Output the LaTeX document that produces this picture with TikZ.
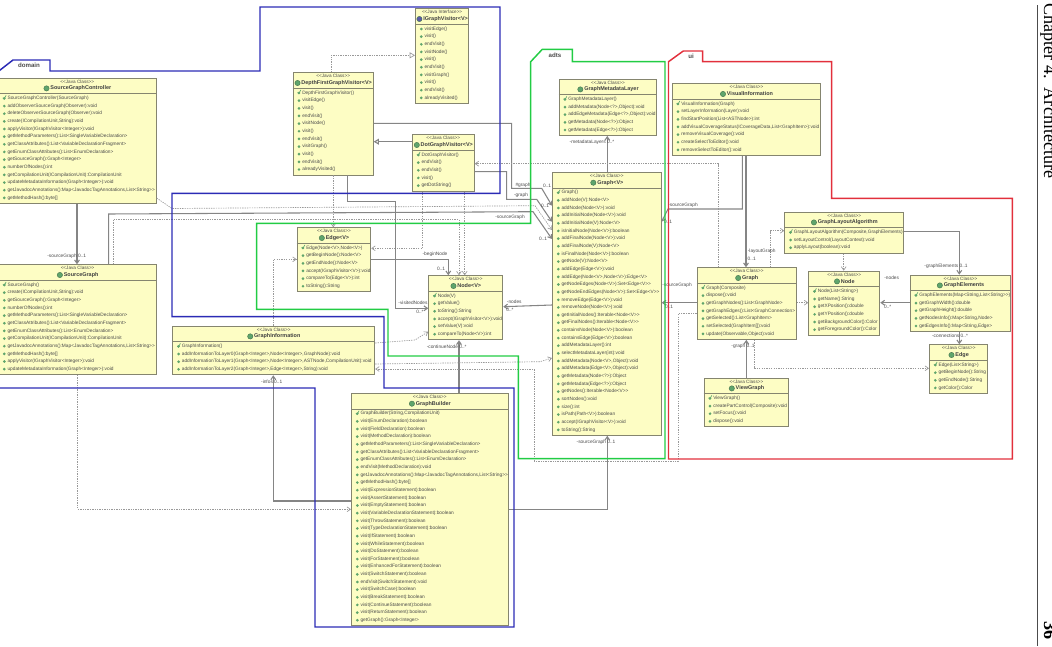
\documentclass[tikz,border=0pt]{standalone}
\usepackage{fontspec}
\usetikzlibrary{positioning}
\usetikzlibrary{calc}
\usetikzlibrary{arrows.meta}
\newfontfamily\umlfont{Liberation Sans}
\newfontfamily\headfont{Liberation Serif}
\definecolor{boxfill}{HTML}{FDFDC4}
\definecolor{boxline}{HTML}{85856F}
\definecolor{linegray}{HTML}{858585}
\definecolor{dashgray}{HTML}{999999}
\definecolor{textgray}{HTML}{4A4A4A}
\definecolor{icongreen}{HTML}{5FA56C}
\definecolor{iconpurple}{HTML}{5B5BA8}
\definecolor{domainblue}{HTML}{2B2BB5}
\definecolor{adtsgreen}{HTML}{22CC44}
\definecolor{uired}{HTML}{E2303C}
% #1 C or I, #2 name, #3 x, #4 y, #5 width, #6 rows, #7 title, #8 members
\newcommand{\umlclass}[8][C]{%
  \pgfmathsetmacro{\boxh}{25.7+(#6-1)*7.65}
  \if C#1\def\iconcol{icongreen}\def\stereoword{Class}\else\def\iconcol{iconpurple}\def\stereoword{Interface}\fi
  \node [classbox, minimum width=#5*0.75pt, minimum height=\boxh*0.75pt] (#2) at (#3,#4) {};
  \node [stereotext] (#2-s) at ($(#2.north)+(0,3.8)$) {<<Java \stereoword>>};
  \node [titletext] (#2-t) at ($(#2.north)+(3.5,10.7)$) {#7};
  \node [classicon, left=0.6pt of #2-t, fill=\iconcol] (#2-i) {};
  \draw [classsep] ($(#2.north west)+(0,16)$) -- ($(#2.north east)+(0,16)$);
  \foreach \memb [count=\i] in {#8} {
    \pgfmathsetmacro{\rowy}{20.7+(\i-1)*7.65}
    \node [memberdot] (#2-d\i) at ($(#2.north west)+(6.3,\rowy)$) {};
    \node [membertext] (#2-m\i) at ($(#2.north west)+(9.3,\rowy)$) {\memb};
    \if C#1\ifnum\i=1
      \draw [ctormark] ($(#2-d\i)+(-1.4,-0.6)$) -- ($(#2-d\i)+(-0.2,0.6)$) -- ($(#2-d\i)+(1.8,-3)$);
    \fi\fi
  }
}
\begin{document}
\begin{tikzpicture}
 [ x=0.75pt
 , y=-0.75pt
 , classbox/.style={rectangle, anchor=north west, draw=boxline, fill=boxfill, line width=0.7pt, inner sep=0pt}
 , classsep/.style={draw=boxline, line width=0.6pt}
 , stereotext/.style={font=\umlfont\fontsize{3.5}{4}\selectfont, text=textgray, inner sep=0pt}
 , titletext/.style={font=\umlfont\bfseries\fontsize{4.1}{5}\selectfont, text=black!75, inner sep=0pt}
 , classicon/.style={circle, minimum size=4pt, inner sep=0pt, draw=icongreen!70!black, line width=0.3pt}
 , membertext/.style={font=\umlfont\fontsize{3.6}{4.5}\selectfont, text=textgray, anchor=west, inner sep=0pt}
 , memberdot/.style={circle, fill=icongreen, minimum size=2.2pt, inner sep=0pt}
 , ctormark/.style={draw=icongreen, line width=0.5pt}
 , assoc/.style={draw=linegray, line width=0.8pt, -{Straight Barb[length=2.6pt,width=3.6pt]}}
 , dep/.style={draw=dashgray, line width=0.5pt, dash pattern=on 1pt off 0.8pt, -{Straight Barb[length=2.6pt,width=3.6pt]}}
 , gen/.style={draw=linegray, line width=0.8pt, -{Triangle[open,length=4pt,width=4.5pt,fill=white]}}
 , impl/.style={draw=dashgray, line width=0.5pt, dash pattern=on 1pt off 0.8pt, -{Triangle[open,length=4pt,width=4.5pt,fill=white]}}
 , edgelabel/.style={font=\umlfont\fontsize{3.6}{4.5}\selectfont, text=textgray, inner sep=0pt}
 , pkgframe/.style={line width=1.1pt, line join=miter}
 , pkglabel/.style={font=\umlfont\bfseries\fontsize{4.6}{6}\selectfont, text=black!70, inner sep=0pt}
 ]
  \path [use as bounding box, clip] (0,0) rectangle (1052,646);

  % domain
  \umlclass{sourceGraphController}{-2}{77.7}{157.7}{14}{SourceGraphController}{%
    {SourceGraphController(SourceGraph)},
    {addObserverSourceGraph(Observer):void},
    {deleteObserverSourceGraph(Observer):void},
    {create(ICompilationUnit,String):void},
    {applyVisitor(IGraphVisitor<Integer>):void},
    {getMethodParameters():List<SingleVariableDeclaration>},
    {getClassAttributes():List<VariableDeclarationFragment>},
    {getEnumClassAttributes():List<EnumDeclaration>},
    {getSourceGraph():Graph<Integer>},
    {numberOfNodes():int},
    {getCompilationUnit(ICompilationUnit):CompilationUnit},
    {updateMetadataInformation(Graph<Integer>):void},
    {getJavadocAnnotations():Map<JavadocTagAnnotations,List<String>>},
    {getMethodHash():byte[]}}
  \umlclass{sourceGraph}{-2}{264.3}{158.3}{12}{SourceGraph}{%
    {SourceGraph()},
    {create(ICompilationUnit,String):void},
    {getSourceGraph():Graph<Integer>},
    {numberOfNodes():int},
    {getMethodParameters():List<SingleVariableDeclaration>},
    {getClassAttributes():List<VariableDeclarationFragment>},
    {getEnumClassAttributes():List<EnumDeclaration>},
    {getCompilationUnit(ICompilationUnit):CompilationUnit},
    {getJavadocAnnotations():Map<JavadocTagAnnotations,List<String>>},
    {getMethodHash():byte[]},
    {applyVisitor(IGraphVisitor<Integer>):void},
    {updateMetadataInformation(Graph<Integer>):void}}
  \umlclass{graphInformation}{172.3}{325.7}{202}{4}{GraphInformation}{%
    {GraphInformation()},
    {addInformationToLayer0(Graph<Integer>,Node<Integer>,GraphNode):void},
    {addInformationToLayer1(Graph<Integer>,Node<Integer>,ASTNode,CompilationUnit):void},
    {addInformationToLayer2(Graph<Integer>,Edge<Integer>,String):void}}
  \umlclass{graphBuilder}{351}{393}{156.7}{28}{GraphBuilder}{%
    {GraphBuilder(String,CompilationUnit)},
    {visit(EnumDeclaration):boolean},
    {visit(FieldDeclaration):boolean},
    {visit(MethodDeclaration):boolean},
    {getMethodParameters():List<SingleVariableDeclaration>},
    {getClassAttributes():List<VariableDeclarationFragment>},
    {getEnumClassAttributes():List<EnumDeclaration>},
    {endVisit(MethodDeclaration):void},
    {getJavadocAnnotations():Map<JavadocTagAnnotations,List<String>>},
    {getMethodHash():byte[]},
    {visit(ExpressionStatement):boolean},
    {visit(AssertStatement):boolean},
    {visit(EmptyStatement):boolean},
    {visit(VariableDeclarationStatement):boolean},
    {visit(ThrowStatement):boolean},
    {visit(TypeDeclarationStatement):boolean},
    {visit(IfStatement):boolean},
    {visit(WhileStatement):boolean},
    {visit(DoStatement):boolean},
    {visit(ForStatement):boolean},
    {visit(EnhancedForStatement):boolean},
    {visit(SwitchStatement):boolean},
    {endVisit(SwitchStatement):void},
    {visit(SwitchCase):boolean},
    {visit(BreakStatement):boolean},
    {visit(ContinueStatement):boolean},
    {visit(ReturnStatement):boolean},
    {getGraph():Graph<Integer>}}

  % visitors
  \umlclass[I]{graphVisitor}{415}{8.3}{53.3}{10}{IGraphVisitor<V>}{%
    visitEdge(), visit(), endVisit(), visitNode(), visit(), endVisit(),
    visitGraph(), visit(), endVisit(), alreadyVisited()}
  \umlclass{depthFirst}{292.7}{72.3}{80}{11}{DepthFirstGraphVisitor<V>}{%
    DepthFirstGraphVisitor(), visitEdge(), visit(), endVisit(), visitNode(), visit(),
    endVisit(), visitGraph(), visit(), endVisit(), alreadyVisited()}
  \umlclass{dotVisitor}{412}{134.3}{61.7}{5}{DotGraphVisitor<V>}{%
    DotGraphVisitor(), endVisit(), endVisit(), visit(), getDotString()}

  % adts
  \umlclass{edgeV}{296.7}{227.3}{73.6}{6}{Edge<V>}{%
    {Edge(Node<V>,Node<V>)},
    {getBeginNode():Node<V>},
    {getEndNode():Node<V>},
    {accept(IGraphVisitor<V>):void},
    {compareTo(Edge<V>):int},
    {toString():String}}
  \umlclass{nodeV}{428.3}{275.3}{74}{6}{Node<V>}{%
    {Node(V)},
    {getValue()},
    {toString():String},
    {accept(IGraphVisitor<V>):void},
    {setValue(V):void},
    {compareTo(Node<V>):int}}
  \umlclass{metadataLayer}{558.7}{78.7}{97.6}{5}{GraphMetadataLayer}{%
    {GraphMetadataLayer()},
    {addMetadata(Node<?>,Object):void},
    {addEdgeMetadata(Edge<?>,Object):void},
    {getMetadata(Node<?>):Object},
    {getMetadata(Edge<?>):Object}}
  \umlclass{graphV}{552}{172}{108.7}{32}{Graph<V>}{%
    {Graph()},
    {addNode(V):Node<V>},
    {addNode(Node<V>):void},
    {addInitialNode(Node<V>):void},
    {addInitialNode(V):Node<V>},
    {isInitialNode(Node<V>):boolean},
    {addFinalNode(Node<V>):void},
    {addFinalNode(V):Node<V>},
    {isFinalNode(Node<V>):boolean},
    {getNode(V):Node<V>},
    {addEdge(Edge<V>):void},
    {addEdge(Node<V>,Node<V>):Edge<V>},
    {getNodeEdges(Node<V>):Set<Edge<V>>},
    {getNodeEndEdges(Node<V>):Set<Edge<V>>},
    {removeEdge(Edge<V>):void},
    {removeNode(Node<V>):void},
    {getInitialNodes():Iterable<Node<V>>},
    {getFinalNodes():Iterable<Node<V>>},
    {containsNode(Node<V>):boolean},
    {containsEdge(Edge<V>):boolean},
    {addMetadataLayer():int},
    {selectMetadataLayer(int):void},
    {addMetadata(Node<V>,Object):void},
    {addMetadata(Edge<V>,Object):void},
    {getMetadata(Node<?>):Object},
    {getMetadata(Edge<?>):Object},
    {getNodes():Iterable<Node<V>>},
    {sortNodes():void},
    {size():int},
    {isPath(Path<V>):boolean},
    {accept(IGraphVisitor<V>):void},
    {toString():String}}

  % ui
  \umlclass{visualInformation}{671.7}{83.3}{148.6}{7}{VisualInformation}{%
    {VisualInformation(Graph)},
    {setLayerInformation(Layer):void},
    {findStartPosition(List<ASTNode>):int},
    {addVisualCoverageStatus(ICoverageData,List<GraphItem>):void},
    {removeVisualCoverage():void},
    {createSelectToEditor():void},
    {removeSelectToEditor():void}}
  \umlclass{layoutAlgorithm}{784.3}{211.7}{119}{3}{GraphLayoutAlgorithm}{%
    {GraphLayoutAlgorithm(Composite,GraphElements)},
    {setLayoutControl(LayoutContext):void},
    {applyLayout(boolean):void}}
  \umlclass{uiGraph}{696.7}{267.3}{99}{7}{Graph}{%
    {Graph(Composite)},
    {dispose():void},
    {getGraphNodes():List<GraphNode>},
    {getGraphEdges():List<GraphConnection>},
    {getSelected():List<GraphItem>},
    {setSelected(GraphItem[]):void},
    {update(Observable,Object):void}}
  \umlclass{uiNode}{808.3}{270.7}{71}{6}{Node}{%
    {Node(List<String>)},
    {getName():String},
    {getXPosition():double},
    {getYPosition():double},
    {getBackgroundColor():Color},
    {getForegroundColor():Color}}
  \umlclass{graphElements}{909.7}{274.7}{100.6}{5}{GraphElements}{%
    {GraphElements(Map<String,List<String>>)},
    {getGraphWidth():double},
    {getGraphHeight():double},
    {getNodesInfo():Map<String,Node>},
    {getEdgesInfo():Map<String,Edge>}}
  \umlclass{uiEdge}{929}{344.3}{58.3}{4}{Edge}{%
    {Edge(List<String>)},
    {getBeginNode():String},
    {getEndNode():String},
    {getColor():Color}}
  \umlclass{viewGraph}{703.7}{377.7}{84.6}{4}{ViewGraph}{%
    {ViewGraph()},
    {createPartControl(Composite):void},
    {setFocus():void},
    {dispose():void}}

  % domain connectors
  \draw [assoc] (77,0 |- sourceGraphController.south) -- (77,0 |- sourceGraph.north);
  \draw [dep] (sourceGraphController.east |- 0,198) -- (172,208.5) -- (535,205.7) -- (graphV.west |- 0,230);
  \draw [assoc] (108.7,0 |- sourceGraph.north) -- (108.7,214) -- (533,211.7) -- (graphV.west |- 0,239);
  \draw [dep] (113,0 |- sourceGraph.north) -- (113,219.3) -- (459,219.3) -- (459,0 |- nodeV.north);
  \draw [dep] (77.7,0 |- sourceGraph.south) -- (77.7,509.3) -- (graphBuilder.west |- 0,509.3);
  \draw [assoc] (graphBuilder.west |- 0,501) -- (273.3,501) -- (273.3,0 |- graphInformation.south);
  \draw [assoc] (459,0 |- graphBuilder.north) -- (459,0 |- nodeV.south);
  \draw [assoc] (graphBuilder.east |- 0,509.3) -- (607.3,509.3) -- (607.3,0 |- graphV.south);
  \draw [dep] (273.3,0 |- graphInformation.north) -- (273.3,259.3) -- (edgeV.west |- 0,259.3);
  \draw [dep] (graphInformation.east |- 0,343) -- (415,340) -- (nodeV.west |- 0,331.7);
  \draw [dep] (graphInformation.east |- 0,364) -- (540,361.7) -- (graphV.west |- 0,358);

  % visitor connectors
  \draw [impl] (331,0 |- depthFirst.north) -- (331,55.3) -- (graphVisitor.west |- 0,55.3);
  \draw [gen] (dotVisitor.west |- 0,141.7) -- (depthFirst.east |- 0,141.7);
  \draw [assoc] (depthFirst.east |- 0,123.3) -- (511.7,123.3) -- (511.7,188.3) -- (541.7,188.3) -- (graphV.west |- 0,205.7);
  \draw [assoc] (dotVisitor.east |- 0,171.7) -- (506.7,171.7) -- (506.7,199.3) -- (536.7,199.3) -- (graphV.west |- 0,221.7);
  \draw [dep] (333.3,0 |- depthFirst.south) -- (333.3,0 |- edgeV.north);
  \draw [assoc] (347.3,0 |- depthFirst.south) -- (347.3,201.7) -- (395.3,201.7) -- (395.3,308.3) -- (nodeV.west |- 0,308.3);
  \draw [dep] (422.7,0 |- dotVisitor.south) -- (422.7,248.3) -- (edgeV.east |- 0,248.3);
  \draw [dep] (464.7,0 |- dotVisitor.south) -- (464.7,0 |- nodeV.north);

  % adts connectors
  \draw [assoc] (edgeV.east |- 0,259.3) -- (448.3,259.3) -- (448.3,0 |- nodeV.north);
  \draw [assoc] (graphV.west |- 0,305) -- (nodeV.east |- 0,306.7);
  \draw [assoc] (607.3,0 |- graphV.north) -- (607.3,0 |- metadataLayer.south);

  % ui connectors
  \draw [assoc] (742.3,0 |- visualInformation.south) -- (742.3,209) -- (668,209) -- (graphV.east |- 0,221.7);
  \draw [assoc] (746,0 |- visualInformation.south) -- (746,0 |- uiGraph.north);
  \draw [dep] (718.3,0 |- uiGraph.north) -- (718.3,163.7) -- (dotVisitor.east |- 0,163.7);
  \draw [dep] (770.7,0 |- uiGraph.north) -- (770.7,230.7) -- (layoutAlgorithm.west |- 0,230.7);
  \draw [dep] (uiGraph.east |- 0,302.7) -- (uiNode.west |- 0,302.7);
  \draw [dep] (843.7,0 |- layoutAlgorithm.south) -- (843.7,0 |- uiNode.north);
  \draw [assoc] (layoutAlgorithm.east |- 0,231.7) -- (959.3,231.7) -- (959.3,0 |- graphElements.north);
  \draw [assoc] (graphElements.west |- 0,302.7) -- (uiNode.east |- 0,302.7);
  \draw [assoc] (959.3,0 |- graphElements.south) -- (959.3,0 |- uiEdge.north);
  \draw [dep] (754,0 |- uiGraph.south) -- (754,368.3) -- (uiEdge.west |- 0,368.3);
  \draw [assoc] (746.3,0 |- viewGraph.north) -- (746.3,0 |- uiGraph.south);
  \draw [assoc] (uiGraph.west |- 0,302.7) -- (graphV.east |- 0,302.7);
  \draw [dep] (uiGraph.west |- 0,313.3) -- (678.3,313.3) -- (678.3,461) -- (534,461) -- (534,369) -- (graphInformation.east |- 0,369);

  % connector labels
  \node [edgelabel] (lbSourceA) at (66.7,256.7) {-sourceGraph 0..1};
  \node [edgelabel] (lbInfos) at (271.7,381.7) {-infos 0..1};
  \node [edgelabel] (lbBegin) at (435,254) {-beginNode};
  \node [edgelabel] (lbBeginN) at (441,268.7) {0..1};
  \node [edgelabel] (lbVisited) at (413,303) {-visitedNodes};
  \node [edgelabel] (lbVisitedN) at (420,312) {0..*};
  \node [edgelabel] (lbContinue) at (446.7,347) {-continueNode 0..*};
  \node [edgelabel] (lbNodes) at (514.3,302) {-nodes};
  \node [edgelabel] (lbNodesN) at (510,310) {0..*};
  \node [edgelabel] (lbHash) at (523,185.7) {\#graph};
  \node [edgelabel] (lbHashN) at (547,186) {0..1};
  \node [edgelabel] (lbGraph) at (521,195) {-graph};
  \node [edgelabel] (lbGraphN) at (545,205.7) {0..1};
  \node [edgelabel] (lbSourceB) at (510,217.7) {-sourceGraph};
  \node [edgelabel] (lbSourceBN) at (543,239.3) {0..1};
  \node [edgelabel] (lbLayers) at (592,142.7) {-metadataLayers 0..*};
  \node [edgelabel] (lbSourceC) at (596,442.3) {-sourceGraph 0..1};
  \node [edgelabel] (lbSourceD) at (683,205) {-sourceGraph};
  \node [edgelabel] (lbSourceDN) at (668,221.7) {0..1};
  \node [edgelabel] (lbSourceE) at (677,285) {-sourceGraph};
  \node [edgelabel] (lbSourceEN) at (669,306.7) {0..1};
  \node [edgelabel] (lbLayout) at (761.7,251.7) {-layoutGraph};
  \node [edgelabel] (lbLayoutN) at (751.7,259.3) {0..1};
  \node [edgelabel] (lbUiGraph) at (743,346.7) {-graph 0..1};
  \node [edgelabel] (lbElements) at (946,266.7) {-graphElements 0..1};
  \node [edgelabel] (lbUiNodes) at (891.7,277.7) {-nodes};
  \node [edgelabel] (lbUiNodesN) at (887.7,306.7) {0..*};
  \node [edgelabel] (lbConn) at (950,336) {-connections 0..*};

  % package frames
  \draw [pkgframe, domainblue] (-5,74) -- (13,60) -- (50,60) -- (50,71) -- (260,71) -- (260,7)
    -- (500,7) -- (500,193.3) -- (172,193.3) -- (172,316.7) -- (384,316.7) -- (384,388)
    -- (514,388) -- (514,627) -- (315,627) -- (315,388) -- (-5,388);
  \draw [pkgframe, adtsgreen] (530.7,61.7) -- (542.3,49.3) -- (572.3,49.3) -- (572.3,61.7) -- (665,61.7)
    -- (665,458.7) -- (518.3,458.7) -- (518.3,356) -- (388,356) -- (388,309.3) -- (256.7,309.3)
    -- (256.7,223.3) -- (530.7,223.3) -- cycle;
  \draw [pkgframe, uired] (668.5,61.7) -- (683.3,51) -- (702.7,51) -- (702.7,61.7) -- (831.7,61.7)
    -- (831.7,198.3) -- (1012.3,198.3) -- (1012.3,459) -- (668.5,459) -- cycle;
  \node [pkglabel] (pkgDomain) at (29,65.5) {domain};
  \node [pkglabel] (pkgAdts) at (555,55) {adts};
  \node [pkglabel] (pkgUi) at (691,56) {ui};

  % page head
  \draw [draw=black!70, line width=0.5pt] (1037.7,5) -- (1037.7,646);
  \node [font=\headfont\fontsize{13.6}{15}\selectfont, rotate=-90, anchor=base west, inner sep=0pt] (headText) at (1044,3) {Chapter 4.\ \ Architecture};
  \node [font=\headfont\bfseries\fontsize{13.6}{15}\selectfont, rotate=-90, anchor=base west, inner sep=0pt] (headPage) at (1044,621) {36};
\end{tikzpicture}
\end{document}
